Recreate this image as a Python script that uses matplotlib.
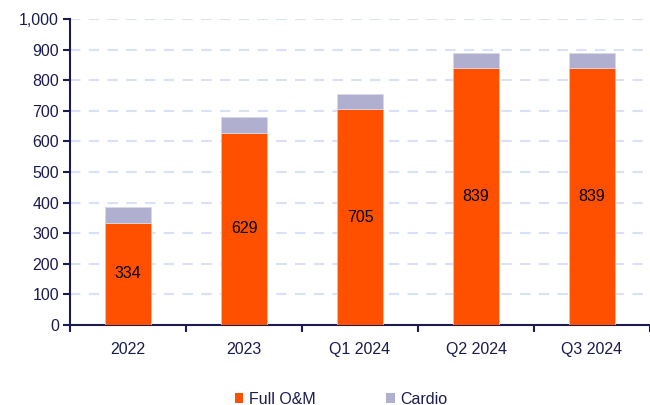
import numpy as np
import matplotlib
matplotlib.use('Agg')
import matplotlib.pyplot as plt
from matplotlib.patches import Patch

# data
categories = ['2022', '2023', 'Q1 2024', 'Q2 2024', 'Q3 2024']
full_om = [334, 629, 705, 839, 839]
cardio = [50, 50, 50, 50, 50]

orange = '#ff5000'
lilac = '#b0afcf'
navy = '#1b1b4f'

plt.rcParams['font.family'] = ['Liberation Sans', 'DejaVu Sans']

fig = plt.figure(figsize=(6.5, 4.05), dpi=100)
ax = fig.add_axes([70/650, 80/405, 580/650, 306/405])

x = np.arange(len(categories))
w = 0.4
ax.bar(x, full_om, width=w, color=orange, edgecolor='#ffb89a', linewidth=0.6, zorder=3)
ax.bar(x, cardio, width=w, bottom=full_om, color=lilac, edgecolor='#d8d8ea', linewidth=0.6, zorder=3)

# value labels in the middle of the orange part
for i, v in enumerate(full_om):
    ax.text(x[i], v / 2, str(v), ha='center', va='center', fontsize=11.5, color='black', zorder=4)

ax.set_xlim(-0.5, len(categories) - 0.5)
ax.set_ylim(0, 1000)
ax.set_yticks(np.arange(0, 1001, 100))
ax.set_yticklabels(['{:,}'.format(v) for v in range(0, 1001, 100)])

# ticks on category boundaries, labels in the centre
ax.set_xticks(np.arange(-0.5, len(categories), 1.0))
ax.set_xticklabels([])
ax.set_xticks(x, minor=True)
ax.set_xticklabels(categories, minor=True)
ax.tick_params(axis='x', which='minor', length=0, pad=12, labelsize=11.5, labelcolor=navy)
ax.tick_params(axis='x', which='major', length=5, width=1.5, color=navy, direction='out')
ax.tick_params(axis='y', length=5, width=1.5, color=navy, labelsize=11.5, labelcolor=navy, pad=3)

for s in ['top', 'right']:
    ax.spines[s].set_visible(False)
for s in ['left', 'bottom']:
    ax.spines[s].set_color(navy)
    ax.spines[s].set_linewidth(1.5)

for yv in range(100, 1001, 100):
    ax.axhline(yv, color='#d8e1f6', linewidth=1.5, linestyle=(0, (5, 4)), zorder=1)

handles = [Patch(facecolor=orange, label='Full O&M'), Patch(facecolor=lilac, label='Cardio')]
fig.legend(handles=handles, loc='center', bbox_to_anchor=(341/650, 6/405), ncol=2, frameon=False,
           fontsize=11.5, labelcolor=navy, handlelength=0.55, handleheight=0.55,
           handletextpad=0.35, columnspacing=4.4, borderaxespad=0)

fig.savefig('out.png', dpi=100)
